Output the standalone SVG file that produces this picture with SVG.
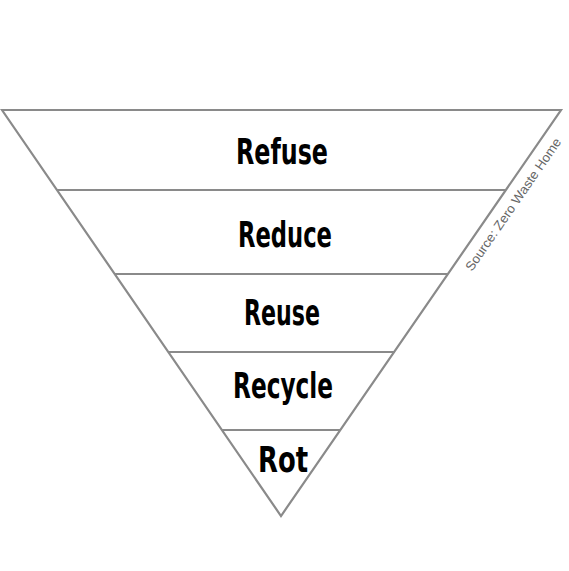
<svg xmlns="http://www.w3.org/2000/svg" width="569" height="571" viewBox="0 0 569 571">
<style>
.edge{stroke:#8a8a8a;stroke-width:2.2;fill:none;stroke-linejoin:miter}
.lbl{font-family:"DejaVu Sans Condensed","DejaVu Sans",sans-serif;font-weight:bold;font-size:35px;fill:#000;text-anchor:middle}
.src{font-family:"Liberation Sans",Arial,sans-serif;font-size:13px;fill:#666}
</style>
<rect width="569" height="571" fill="#fff"/>
<g id="connectors">
<polygon class="edge" points="2,110 561,110 281,516"/>
<line class="edge" x1="57" y1="190" x2="506" y2="190"/>
<line class="edge" x1="115" y1="274" x2="448" y2="274"/>
<line class="edge" x1="168" y1="352" x2="395" y2="352"/>
<line class="edge" x1="222" y1="430" x2="341" y2="430"/>
</g>
<g id="refuse"><text class="lbl" x="282" y="164" textLength="92" lengthAdjust="spacingAndGlyphs">Refuse</text></g>
<g id="reduce"><text class="lbl" x="285" y="247" textLength="94" lengthAdjust="spacingAndGlyphs">Reduce</text></g>
<g id="reuse"><text class="lbl" x="282" y="325" textLength="76" lengthAdjust="spacingAndGlyphs">Reuse</text></g>
<g id="recycle"><text class="lbl" x="283" y="398" textLength="100" lengthAdjust="spacingAndGlyphs">Recycle</text></g>
<g id="rot"><text class="lbl" x="283" y="472" textLength="50" lengthAdjust="spacingAndGlyphs">Rot</text></g>
<g id="source"><text class="src" transform="translate(472,272) rotate(-55.4)" textLength="158" lengthAdjust="spacingAndGlyphs">Source: Zero Waste Home</text></g>
</svg>
